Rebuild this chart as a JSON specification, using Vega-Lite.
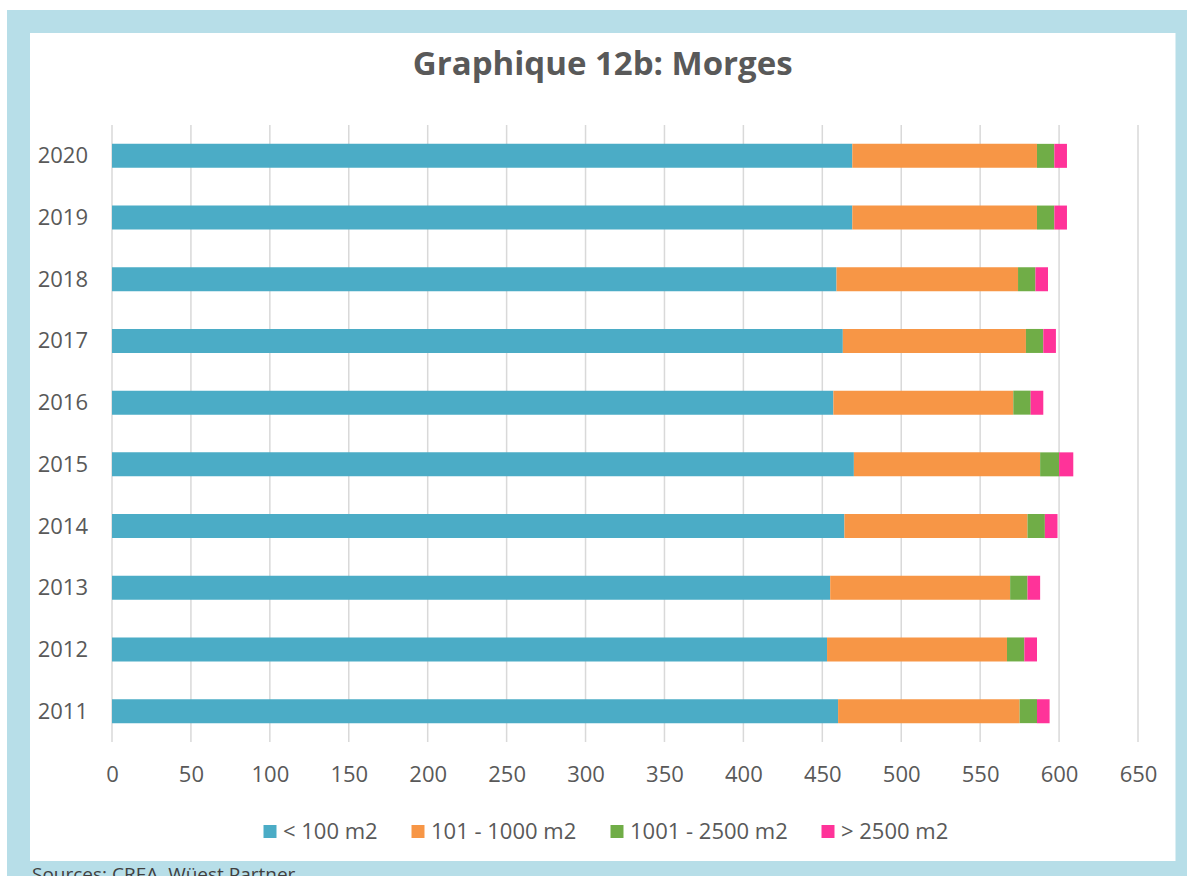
{
  "$schema": "https://vega.github.io/schema/vega-lite/v6.json",
  "autosize": "none",
  "width": 1168.5,
  "height": 851,
  "padding": {"left": 18.5, "top": 21.5, "right": 0, "bottom": 3.5},
  "background": "white",
  "title": {
    "text": "Graphique 12b: Morges",
    "font": "Open Sans",
    "fontSize": 33,
    "fontWeight": "bold",
    "color": "#595959",
    "anchor": "middle",
    "frame": "group",
    "baseline": "alphabetic",
    "offset": 0,
    "dy": 86
  },
  "datasets": {
    "bars": [
      {"year": 2020, "cat": "< 100 m2", "value": 469}, {"year": 2020, "cat": "101 - 1000 m2", "value": 117}, {"year": 2020, "cat": "1001 - 2500 m2", "value": 11}, {"year": 2020, "cat": "> 2500 m2", "value": 8},
      {"year": 2019, "cat": "< 100 m2", "value": 469}, {"year": 2019, "cat": "101 - 1000 m2", "value": 117}, {"year": 2019, "cat": "1001 - 2500 m2", "value": 11}, {"year": 2019, "cat": "> 2500 m2", "value": 8},
      {"year": 2018, "cat": "< 100 m2", "value": 459}, {"year": 2018, "cat": "101 - 1000 m2", "value": 115}, {"year": 2018, "cat": "1001 - 2500 m2", "value": 11}, {"year": 2018, "cat": "> 2500 m2", "value": 8},
      {"year": 2017, "cat": "< 100 m2", "value": 463}, {"year": 2017, "cat": "101 - 1000 m2", "value": 116}, {"year": 2017, "cat": "1001 - 2500 m2", "value": 11}, {"year": 2017, "cat": "> 2500 m2", "value": 8},
      {"year": 2016, "cat": "< 100 m2", "value": 457}, {"year": 2016, "cat": "101 - 1000 m2", "value": 114}, {"year": 2016, "cat": "1001 - 2500 m2", "value": 11}, {"year": 2016, "cat": "> 2500 m2", "value": 8},
      {"year": 2015, "cat": "< 100 m2", "value": 470}, {"year": 2015, "cat": "101 - 1000 m2", "value": 118}, {"year": 2015, "cat": "1001 - 2500 m2", "value": 12}, {"year": 2015, "cat": "> 2500 m2", "value": 9},
      {"year": 2014, "cat": "< 100 m2", "value": 464}, {"year": 2014, "cat": "101 - 1000 m2", "value": 116}, {"year": 2014, "cat": "1001 - 2500 m2", "value": 11}, {"year": 2014, "cat": "> 2500 m2", "value": 8},
      {"year": 2013, "cat": "< 100 m2", "value": 455}, {"year": 2013, "cat": "101 - 1000 m2", "value": 114}, {"year": 2013, "cat": "1001 - 2500 m2", "value": 11}, {"year": 2013, "cat": "> 2500 m2", "value": 8},
      {"year": 2012, "cat": "< 100 m2", "value": 453}, {"year": 2012, "cat": "101 - 1000 m2", "value": 114}, {"year": 2012, "cat": "1001 - 2500 m2", "value": 11}, {"year": 2012, "cat": "> 2500 m2", "value": 8},
      {"year": 2011, "cat": "< 100 m2", "value": 460}, {"year": 2011, "cat": "101 - 1000 m2", "value": 115}, {"year": 2011, "cat": "1001 - 2500 m2", "value": 11}, {"year": 2011, "cat": "> 2500 m2", "value": 8}
    ],
    "grid": [
      {"g": 0}, {"g": 50}, {"g": 100}, {"g": 150}, {"g": 200}, {"g": 250}, {"g": 300},
      {"g": 350}, {"g": 400}, {"g": 450}, {"g": 500}, {"g": 550}, {"g": 600}, {"g": 650}
    ]
  },
  "layer": [
    {
      "data": {"name": "grid"},
      "mark": {"type": "rule", "color": "#d9d9d9", "strokeWidth": 1.5},
      "encoding": {
        "x": {
          "field": "g", "type": "quantitative",
          "scale": {"domain": [0, 650], "range": [93.5, 1119.5], "nice": false, "zero": false, "padding": 0},
          "axis": {
            "orient": "bottom", "offset": -130.5, "domain": false, "ticks": false, "grid": false,
            "values": [0, 50, 100, 150, 200, 250, 300, 350, 400, 450, 500, 550, 600, 650],
            "labelFlush": false, "labelOverlap": false, "labelPadding": 22.5,
            "labelFont": "Open Sans", "labelFontSize": 22, "labelColor": "#595959",
            "title": "Sources: CREA, Wüest Partner",
            "titleX": 13, "titleY": 138, "titleAlign": "left", "titleBaseline": "alphabetic",
            "titleFont": "Open Sans", "titleFontSize": 19, "titleFontWeight": "normal", "titleColor": "#404040"
          }
        },
        "y": {
          "datum": 2010.5, "type": "quantitative",
          "scale": {"domain": [2010.5, 2020.5], "range": [720.5, 103.5], "nice": false, "zero": false, "padding": 0},
          "axis": {
            "orient": "left", "offset": -69, "domain": false, "ticks": false, "grid": false,
            "values": [2011, 2012, 2013, 2014, 2015, 2016, 2017, 2018, 2019, 2020],
            "format": "d", "labelPadding": 0, "labelFlush": false, "labelOverlap": false,
            "labelFont": "Open Sans", "labelFontSize": 22, "labelColor": "#595959",
            "title": null
          }
        },
        "y2": {"datum": 2020.5}
      }
    },
    {
      "data": {"name": "bars"},
      "mark": {"type": "bar", "orient": "horizontal", "height": 24},
      "encoding": {
        "x": {
          "field": "value", "type": "quantitative", "stack": "zero",
          "scale": {"domain": [0, 650], "range": [93.5, 1119.5], "nice": false, "zero": false, "padding": 0},
          "axis": {
            "orient": "bottom", "offset": -130.5, "domain": false, "ticks": false, "grid": false,
            "values": [0, 50, 100, 150, 200, 250, 300, 350, 400, 450, 500, 550, 600, 650],
            "labelFlush": false, "labelOverlap": false, "labelPadding": 22.5,
            "labelFont": "Open Sans", "labelFontSize": 22, "labelColor": "#595959",
            "title": "Sources: CREA, Wüest Partner",
            "titleX": 13, "titleY": 138, "titleAlign": "left", "titleBaseline": "alphabetic",
            "titleFont": "Open Sans", "titleFontSize": 19, "titleFontWeight": "normal", "titleColor": "#404040"
          }
        },
        "y": {
          "field": "year", "type": "quantitative",
          "scale": {"domain": [2010.5, 2020.5], "range": [720.5, 103.5], "nice": false, "zero": false, "padding": 0},
          "axis": {
            "orient": "left", "offset": -69, "domain": false, "ticks": false, "grid": false,
            "values": [2011, 2012, 2013, 2014, 2015, 2016, 2017, 2018, 2019, 2020],
            "format": "d", "labelPadding": 0, "labelFlush": false, "labelOverlap": false,
            "labelFont": "Open Sans", "labelFontSize": 22, "labelColor": "#595959",
            "title": null
          }
        },
        "order": {"field": "value", "type": "quantitative", "sort": "descending"},
        "color": {
          "field": "cat", "type": "nominal",
          "sort": ["< 100 m2", "101 - 1000 m2", "1001 - 2500 m2", "> 2500 m2"],
          "scale": {
            "domain": ["< 100 m2", "101 - 1000 m2", "1001 - 2500 m2", "> 2500 m2"],
            "range": ["#4bacc6", "#f79646", "#70ad47", "#ff3399"]
          },
          "legend": {
            "orient": "none", "direction": "horizontal", "legendX": 240.5, "legendY": 799,
            "title": null, "padding": 0,
            "symbolType": "square", "symbolSize": 169, "symbolStrokeWidth": 0,
            "labelFont": "Open Sans", "labelFontSize": 22, "labelColor": "#595959",
            "labelOffset": 2, "columnPadding": 29, "labelLimit": 300
          }
        }
      }
    }
  ],
  "config": {
    "view": {"stroke": "#b7dee8", "strokeWidth": 23, "fill": "white"},
    "font": "Open Sans"
  }
}
